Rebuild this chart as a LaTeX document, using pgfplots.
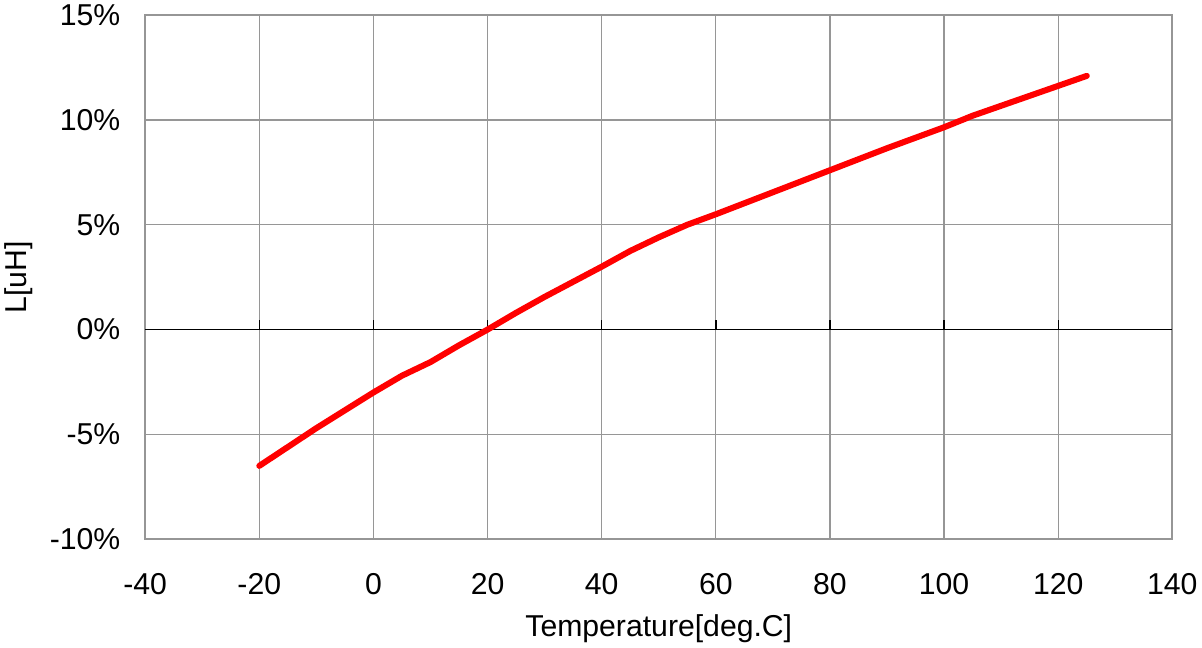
\documentclass[border=0pt]{standalone}
\usepackage{pgfplots}
\pgfplotsset{compat=1.18}
\usepackage{fontspec}
\setmainfont{Liberation Sans}
\definecolor{gridgray}{RGB}{150,150,150}
\begin{document}
\begin{tikzpicture}
\begin{axis}[
  scale only axis,
  width=765.75pt, height=390.75pt,
  xmin=-40, xmax=140, ymin=-10, ymax=15,
  xtick={-40,-20,...,140},
  ytick={-10,-5,...,15},
  grid=major,
  major grid style={gridgray, line width=0.9pt},
  axis line style={gridgray, line width=1.5pt},
  tick style={draw=none},
  /pgf/number format/assume math mode=true,
  yticklabel={\pgfmathprintnumber{\tick}\%},
  ticklabel style={font=\fontsize{22.5}{26}\selectfont},
  label style={font=\fontsize{22.5}{26}\selectfont},
  xlabel={Temperature[deg.C]},
  ylabel={L[uH]},
  xticklabel style={yshift=-22pt},
  yticklabel style={xshift=-15pt},
  xlabel style={yshift=-8pt},
  ylabel style={yshift=6pt},
]
\draw[black, line width=1pt] (axis cs:-40,0) -- (axis cs:140,0);
\foreach \xx in {-20,0,...,120} {
  \edef\tmp{\noexpand\draw[black, line width=1pt] (axis cs:\xx,0) -- (axis cs:\xx,0.45);}\tmp
}
\addplot[red, line width=4.5pt, line cap=round, line join=round] coordinates {
(-20,-6.5) (-10,-4.7) (0,-3.0) (5,-2.2) (10,-1.55) (15,-0.75) (20,0) (25,0.8) (30,1.56) (40,3.0) (45,3.75) (50,4.4) (55,5.0) (60,5.5) (70,6.55) (80,7.6) (90,8.65) (100,9.65) (105,10.2) (115,11.15) (125,12.1)
};
\end{axis}
\end{tikzpicture}
\end{document}
